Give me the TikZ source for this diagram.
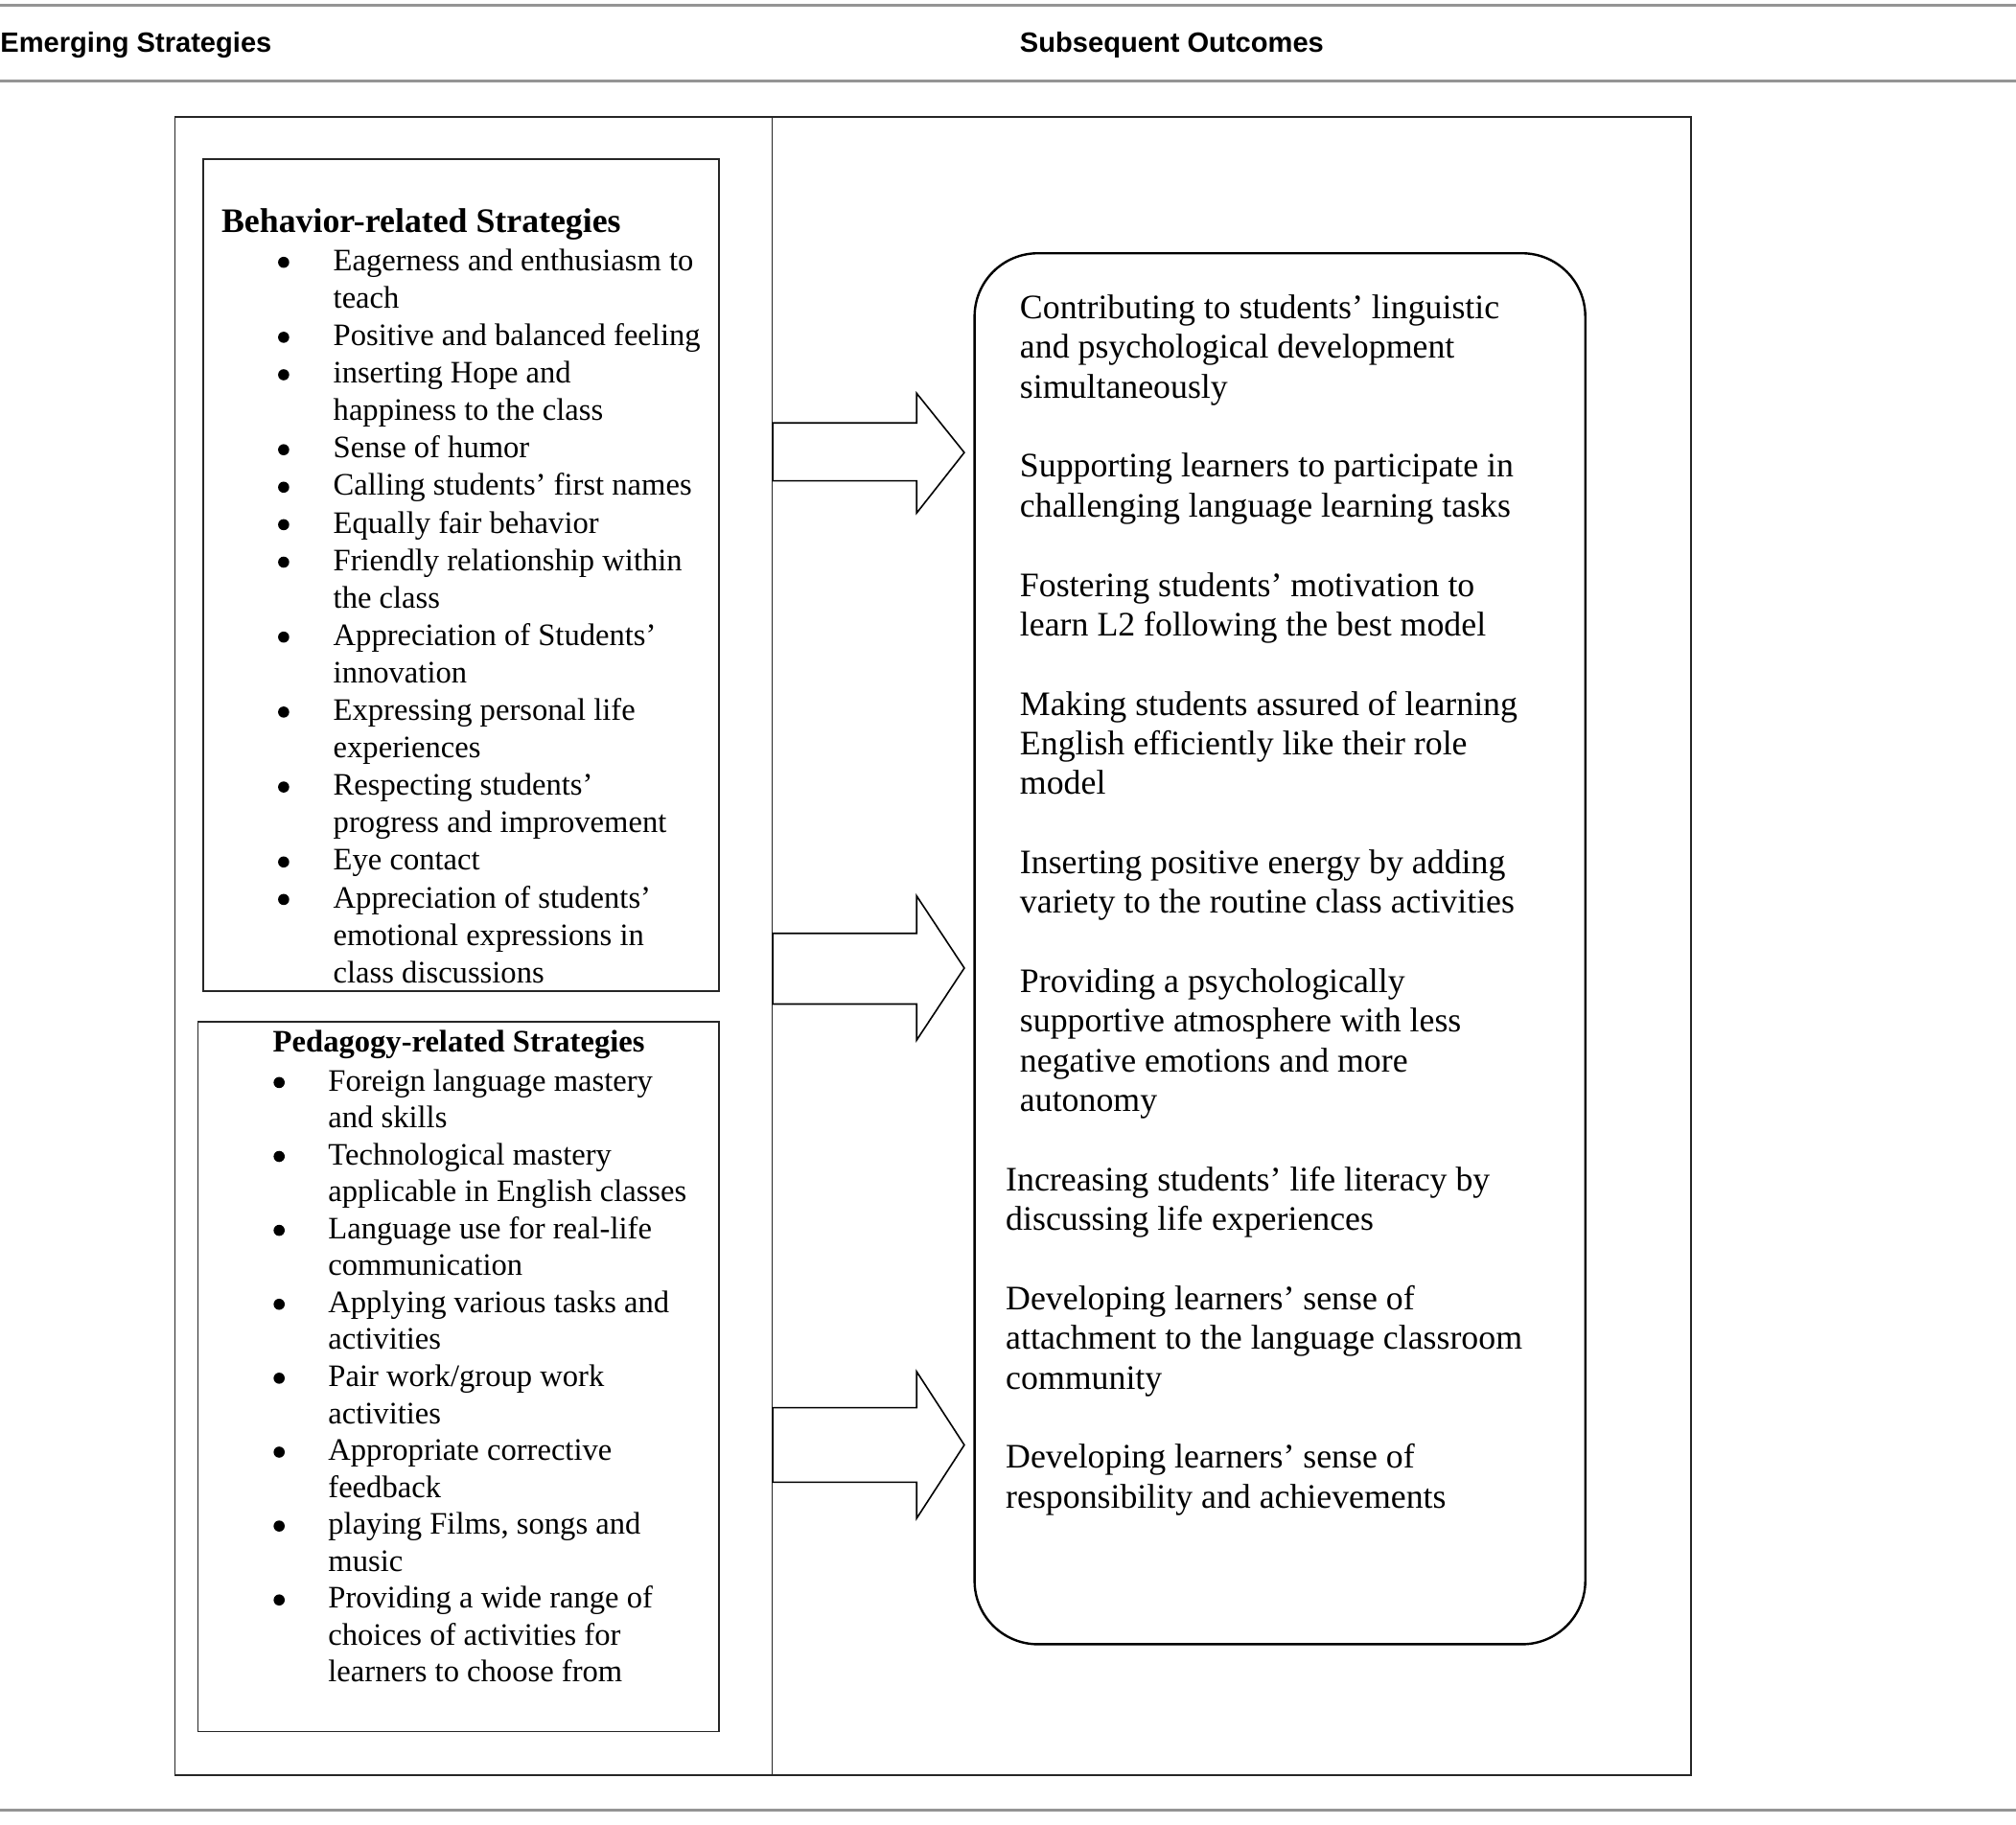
\documentclass[tikz,border=0pt]{standalone}
\usepackage{fontspec}
\setmainfont{Liberation Serif}
\newfontfamily\hdrfont{Liberation Sans}
\usepackage{array}
\newcommand{\bul}{\tikz[baseline=0pt]\fill (0,0.265em) circle (2.9pt);}
\begin{document}
\begin{tikzpicture}[x=0.6706pt,y=-0.6706pt,
  hdr/.style={font=\hdrfont\bfseries\fontsize{14.55}{17}\selectfont, anchor=base west, inner sep=0pt},
  rule/.style={draw=black!42, line width=1.2pt},
  frame/.style={draw=black!85, line width=0.85pt},
  heading/.style={anchor=base west, inner sep=0pt},
  lstB/.style={anchor=base west, inner sep=0pt, font=\fontsize{16.3}{19.55}\selectfont},
  lstP/.style={anchor=base west, inner sep=0pt, font=\fontsize{16.3}{19.28}\selectfont},
  outc/.style={anchor=base west, inner sep=0pt, font=\fontsize{17.9}{20.68}\selectfont},
  blockarrow/.style={draw=black, line width=0.8pt, fill=white, line join=miter}
]
\useasboundingbox (0,0) rectangle (1568,1419.6);

% header rules
\draw[rule] (0,4) -- (1568,4);
\draw[rule] (0,63) -- (1568,63);
\draw[rule] (0,1408) -- (1568,1408);

\node[hdr] (hdrA) at (0,41) {Emerging Strategies};
\node[hdr] (hdrB) at (793,41) {Subsequent Outcomes};

% outer frame and divider
\draw[frame] (136,91) rectangle (1315,1381);
\draw[frame] (600.5,91) -- (600.5,1381);

% behaviour box
\draw[frame] (158,124) rectangle (559,771);
\node[heading, font=\bfseries\fontsize{17.9}{21}\selectfont] (bhead) at (172,181) {Behavior-related Strategies};
\node[lstB] (blist) at (216,210.5) {\begin{tabular}[t]{@{}p{28.8pt}@{}l@{}}
\bul & Eagerness and enthusiasm to\\
 & teach\\
\bul & Positive and balanced feeling\\
\bul & inserting Hope and\\
 & happiness to the class\\
\bul & Sense of humor\\
\bul & Calling students’ first names\\
\bul & Equally fair behavior\\
\bul & Friendly relationship within\\
 & the class\\
\bul & Appreciation of Students’\\
 & innovation\\
\bul & Expressing personal life\\
 & experiences\\
\bul & Respecting students’\\
 & progress and improvement\\
\bul & Eye contact\\
\bul & Appreciation of students’\\
 & emotional expressions in\\
 & class discussions
\end{tabular}};

% pedagogy box
\draw[frame] (154,795) rectangle (559,1347);
\node[heading, font=\bfseries\fontsize{16.3}{19}\selectfont] (phead) at (212,818) {Pedagogy-related Strategies};
\node[lstP] (plist) at (212.5,848.5) {\begin{tabular}[t]{@{}p{28.5pt}@{}l@{}}
\bul & Foreign language mastery\\
 & and skills\\
\bul & Technological mastery\\
 & applicable in English classes\\
\bul & Language use for real-life\\
 & communication\\
\bul & Applying various tasks and\\
 & activities\\
\bul & Pair work/group work\\
 & activities\\
\bul & Appropriate corrective\\
 & feedback\\
\bul & playing Films, songs and\\
 & music\\
\bul & Providing a wide range of\\
 & choices of activities for\\
 & learners to choose from
\end{tabular}};

% outcomes box
\draw[draw=black, line width=1.2pt, rounded corners=33pt] (758,197) rectangle (1233,1279);

\node[outc] (o1) at (793,248) {\begin{tabular}[t]{@{}l@{}}Contributing to students’ linguistic\\ and psychological development\\ simultaneously\end{tabular}};
\node[outc] (o2) at (793,371.3) {\begin{tabular}[t]{@{}l@{}}Supporting learners to participate in\\ challenging language learning tasks\end{tabular}};
\node[outc] (o3) at (793,463.8) {\begin{tabular}[t]{@{}l@{}}Fostering students’ motivation to\\ learn L2 following the best model\end{tabular}};
\node[outc] (o4) at (793,556.3) {\begin{tabular}[t]{@{}l@{}}Making students assured of learning\\ English efficiently like their role\\ model\end{tabular}};
\node[outc] (o5) at (793,679.6) {\begin{tabular}[t]{@{}l@{}}Inserting positive energy by adding\\ variety to the routine class activities\end{tabular}};
\node[outc] (o6) at (793,772.1) {\begin{tabular}[t]{@{}l@{}}Providing a psychologically\\ supportive atmosphere with less\\ negative emotions and more\\ autonomy\end{tabular}};
\node[outc] (o7) at (782,926.3) {\begin{tabular}[t]{@{}l@{}}Increasing students’ life literacy by\\ discussing life experiences\end{tabular}};
\node[outc] (o8) at (782,1018.8) {\begin{tabular}[t]{@{}l@{}}Developing learners’ sense of\\ attachment to the language classroom\\ community\end{tabular}};
\node[outc] (o9) at (782,1142.1) {\begin{tabular}[t]{@{}l@{}}Developing learners’ sense of\\ responsibility and achievements\end{tabular}};

% block arrows
\draw[blockarrow] (601,329) -- (713,329) -- (713,306) -- (750,352) -- (713,399) -- (713,374) -- (601,374) -- cycle;
\draw[blockarrow] (601,726) -- (713,726) -- (713,697) -- (750,753) -- (713,809) -- (713,781) -- (601,781) -- cycle;
\draw[blockarrow] (601,1095) -- (713,1095) -- (713,1067) -- (750,1124) -- (713,1181) -- (713,1153) -- (601,1153) -- cycle;
\end{tikzpicture}
\end{document}
